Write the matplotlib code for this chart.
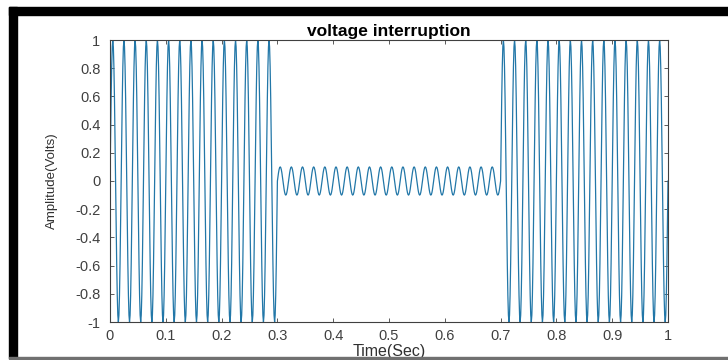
import matplotlib.pyplot as plt
import numpy as np
from matplotlib.patches import Rectangle

plt.rcParams['font.family'] = ['Liberation Sans', 'DejaVu Sans']

# Signal description: 50 Hz sine with an interruption between 0.3 s and 0.7 s
freq = 50
fs = 1000
breakpoints = [0.0, 0.3, 0.7, 1.0]
amplitudes = [1.0, 0.1, 1.0]

xticks = [0, 0.1, 0.2, 0.3, 0.4, 0.5, 0.6, 0.7, 0.8, 0.9, 1]
yticks = [-1, -0.8, -0.6, -0.4, -0.2, 0, 0.2, 0.4, 0.6, 0.8, 1]

t = np.arange(0, 1 + 1 / fs, 1 / fs)
amp = np.select([t < breakpoints[1], t < breakpoints[2]],
                [amplitudes[0], amplitudes[1]], amplitudes[2])
v = amp * np.sin(2 * np.pi * freq * t)

fig = plt.figure(figsize=(7.28, 3.6), dpi=100)
ax = fig.add_axes([110 / 728, 38 / 360, 558 / 728, 282 / 360])
ax.plot(t, v, color='#2277a8', linewidth=0.9)

ax.set_xlim(0, 1)
ax.set_ylim(-1, 1)
ax.set_xticks(xticks)
ax.set_xticklabels([f'{x:g}' for x in xticks])
ax.set_yticks(yticks)
ax.set_yticklabels([f'{y:g}' for y in yticks])
ax.tick_params(direction='in', top=True, right=True, length=3, width=0.6,
               colors='#404040', labelsize=10.5, labelcolor='#404040')
ax.tick_params(axis='x', pad=5)
ax.tick_params(axis='y', pad=7)
for s in ax.spines.values():
    s.set_color('#404040')
    s.set_linewidth(0.8)

ax.set_title('voltage interruption', fontsize=12.5, fontweight='bold', pad=3)
ax.set_xlabel('Time(Sec)', fontsize=11.5, color='#303030', labelpad=1)
ax.set_ylabel('Amplitude(Volts)', fontsize=9.5, color='#303030', labelpad=12)

# black frame pieces from the screenshot
fig.patches.append(Rectangle((9 / 728, 1 - 15 / 360), 1, 8 / 360,
                             transform=fig.transFigure, color='black', zorder=10))
fig.patches.append(Rectangle((9 / 728, 2 / 360), 8 / 728, 351 / 360,
                             transform=fig.transFigure, color='black', zorder=10))
fig.patches.append(Rectangle((9 / 728, 1.5 / 360), 1, 2 / 360,
                             transform=fig.transFigure, color='#707070', zorder=10))

fig.savefig('out.png', dpi=100)
